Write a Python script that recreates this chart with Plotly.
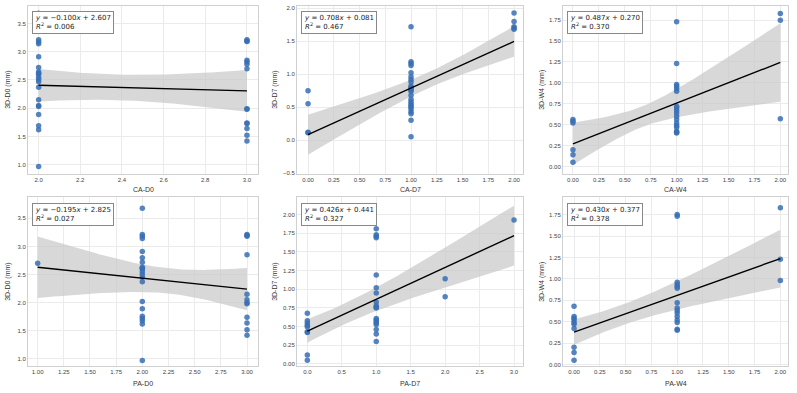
import numpy as np
import plotly.graph_objects as go

# ---------------- data ----------------
ca_d0_x = [2]*20 + [3]*14
ca_d0_y = [3.68, 3.21, 3.17, 3.14, 2.91, 2.72, 2.64, 2.62, 2.60, 2.55, 2.51, 2.47, 2.37, 2.15, 2.05, 2.03, 1.89, 1.69, 1.62, 0.97,
           3.21, 3.19, 3.18, 2.85, 2.82, 2.78, 2.70, 1.99, 1.98, 1.74, 1.73, 1.64, 1.52, 1.42]

ca_d7_x = [0]*4 + [1]*24 + [2]*5
ca_d7_y = [0.75, 0.55, 0.12, 0.11,
           1.72, 1.19, 1.16, 1.13, 1.02, 0.96, 0.92, 0.88, 0.82, 0.80, 0.78, 0.76, 0.74, 0.68, 0.62, 0.58, 0.55, 0.52, 0.50, 0.47, 0.43, 0.40, 0.30, 0.05,
           1.93, 1.80, 1.72, 1.70, 1.68]

ca_w4_x = [0]*6 + [1]*18 + [2]*3
ca_w4_y = [0.56, 0.54, 0.52, 0.20, 0.14, 0.05,
           1.73, 1.23, 0.98, 0.96, 0.93, 0.90, 0.72, 0.70, 0.67, 0.64, 0.60, 0.56, 0.52, 0.49, 0.47, 0.42, 0.41, 0.40,
           1.83, 1.75, 0.57]

pa_d0_x = [1] + [2]*21 + [3]*12
pa_d0_y = [2.70,
           3.68, 3.21, 3.18, 3.14, 2.91, 2.80, 2.72, 2.63, 2.61, 2.60, 2.55, 2.50, 2.45, 2.37, 2.02, 1.89, 1.76, 1.72, 1.68, 1.62, 0.97,
           3.21, 3.20, 3.18, 2.85, 2.15, 2.05, 2.00, 1.98, 1.74, 1.64, 1.52, 1.42]

pa_d7_x = [0]*9 + [1]*19 + [2]*2 + [3]
pa_d7_y = [0.68, 0.58, 0.55, 0.52, 0.50, 0.43, 0.42, 0.12, 0.05,
           1.81, 1.73, 1.71, 1.69, 1.19, 1.02, 0.95, 0.83, 0.78, 0.76, 0.75, 0.61, 0.59, 0.57, 0.55, 0.53, 0.46, 0.40, 0.30,
           1.14, 0.90,
           1.93]

pa_w4_x = [0]*10 + [1]*15 + [2]*3
pa_w4_y = [0.68, 0.56, 0.54, 0.52, 0.49, 0.47, 0.42, 0.20, 0.14, 0.05,
           1.75, 1.73, 0.96, 0.93, 0.91, 0.89, 0.72, 0.66, 0.63, 0.60, 0.56, 0.52, 0.49, 0.41, 0.40,
           1.83, 1.23, 0.98]

slopes = [-0.100, 0.708, 0.487, -0.195, 0.426, 0.430]
intercepts = [2.607, 0.081, 0.270, 2.825, 0.441, 0.377]
r2_values = [0.006, 0.467, 0.370, 0.027, 0.327, 0.378]
x_titles = ["CA-D0", "CA-D7", "CA-W4", "PA-D0", "PA-D7", "PA-W4"]
y_titles = ["3D-D0 (mm)", "3D-D7 (mm)", "3D-W4 (mm)", "3D-D0 (mm)", "3D-D7 (mm)", "3D-W4 (mm)"]

datasets = [(ca_d0_x, ca_d0_y), (ca_d7_x, ca_d7_y), (ca_w4_x, ca_w4_y),
            (pa_d0_x, pa_d0_y), (pa_d7_x, pa_d7_y), (pa_w4_x, pa_w4_y)]

# ---------------- layout geometry ----------------
W, H = 797, 393
col_px = [(28, 258), (297, 523), (563, 788)]
row_px = [(5, 174), (198, 368)]
ytitle_px = [8, 275, 542]
xtitle_px = [190, 385]
x_ranges = [[1.949, 3.053], [-0.107, 2.087], [-0.096, 2.074],
            [0.908, 3.105], [-0.15, 3.13], [-0.107, 2.074]]
y_ranges = [[0.842, 3.81], [-0.51, 2.035], [-0.087, 1.92],
            [0.87, 3.87], [-0.03, 2.23], [-0.02, 1.95]]
x_dtick = [0.2, 0.25, 0.25, 0.25, 0.5, 0.25]
y_dtick = [0.5, 0.5, 0.25, 0.5, 0.25, 0.25]
x_fmt = [".1f", ".2f", ".2f", ".2f", ".1f", ".2f"]
y_fmt = [".1f", ".1f", ".2f", ".1f", ".2f", ".2f"]

fig = go.Figure()
tick_font = dict(family="Liberation Sans, Arial, sans-serif", size=6, color="#444444")
title_font = dict(family="Liberation Sans, Arial, sans-serif", size=7, color="#333333")


def band_halfwidth(xs_a, ys_a, xg):
    # heteroscedasticity-robust (HC3 sandwich) 95% CI of the regression mean
    X = np.column_stack([np.ones_like(xs_a), xs_a])
    beta, *_ = np.linalg.lstsq(X, ys_a, rcond=None)
    e = ys_a - X @ beta
    bread = np.linalg.inv(X.T @ X)
    h = np.einsum("ij,jk,ik->i", X, bread, X)
    w = (e / (1 - h))**2
    meat = (X * w[:, None]).T @ X
    cov = bread @ meat @ bread
    G = np.column_stack([np.ones_like(xg), xg])
    se = np.sqrt(np.einsum("ij,jk,ik->i", G, cov, G))
    return 1.96 * se


for i, ((xs, ys), m, b, r2) in enumerate(zip(datasets, slopes, intercepts, r2_values)):
    r, c = divmod(i, 3)
    n = i + 1
    xa = "x" if n == 1 else f"x{n}"
    ya = "y" if n == 1 else f"y{n}"
    xs_a = np.array(xs, float)
    ys_a = np.array(ys, float)

    xg = np.linspace(xs_a.min(), xs_a.max(), 100)
    fit = m * xg + b
    half = band_halfwidth(xs_a, ys_a, xg)
    fig.add_trace(go.Scatter(x=np.concatenate([xg, xg[::-1]]),
                             y=np.concatenate([fit + half, (fit - half)[::-1]]),
                             fill="toself", fillcolor="rgba(200,200,200,0.7)",
                             line=dict(width=0), mode="lines", hoverinfo="skip",
                             showlegend=False, xaxis=xa, yaxis=ya))
    fig.add_trace(go.Scatter(x=xs, y=ys, mode="markers",
                             marker=dict(size=5.5, color="rgba(55,110,180,0.85)", line=dict(width=0)),
                             showlegend=False, xaxis=xa, yaxis=ya))
    fig.add_trace(go.Scatter(x=xg, y=fit, mode="lines",
                             line=dict(color="black", width=1.4),
                             showlegend=False, xaxis=xa, yaxis=ya))

    x0, x1 = col_px[c]
    y0, y1 = row_px[r]
    common = dict(showgrid=True, gridcolor="#ebebeb", gridwidth=1, zeroline=False,
                  showline=True, linecolor="#d0d0d0", linewidth=1, mirror=True,
                  ticks="", tickfont=tick_font)
    fig.layout[f"xaxis{'' if n == 1 else n}"] = dict(
        domain=[x0 / W, x1 / W], anchor=ya, range=x_ranges[i], dtick=x_dtick[i],
        tick0=0, tickformat=x_fmt[i], **common)
    fig.layout[f"yaxis{'' if n == 1 else n}"] = dict(
        domain=[1 - y1 / H, 1 - y0 / H], anchor=xa, range=y_ranges[i], dtick=y_dtick[i],
        tick0=0, tickformat=y_fmt[i], **common)

    # axis titles
    fig.add_annotation(xref="paper", yref="paper", x=(x0 + x1) / 2 / W, y=1 - xtitle_px[r] / H,
                       xanchor="center", yanchor="middle", showarrow=False,
                       text=x_titles[i], font=title_font)
    fig.add_annotation(xref="paper", yref="paper", x=ytitle_px[c] / W, y=1 - (y0 + y1) / 2 / H,
                       xanchor="center", yanchor="middle", showarrow=False, textangle=-90,
                       text=y_titles[i], font=title_font)

    fig.add_annotation(xref=f"{xa} domain", yref=f"{ya} domain", x=0.017, y=0.97,
                       xanchor="left", yanchor="top", showarrow=False, align="left",
                       text=(f"<i>y</i> = {'−' if m < 0 else ''}{abs(m):.3f}<i>x</i> + {b:.3f}"
                             f"<br><i>R</i><sup>2</sup> = {r2:.3f}"),
                       font=dict(family="DejaVu Sans, sans-serif", size=7, color="#222222"),
                       bgcolor="white", bordercolor="#888888", borderwidth=1, borderpad=2)

fig.update_layout(width=W, height=H, margin=dict(l=0, r=0, t=0, b=0),
                  plot_bgcolor="white", paper_bgcolor="white", showlegend=False)
fig.write_html("out.html")
